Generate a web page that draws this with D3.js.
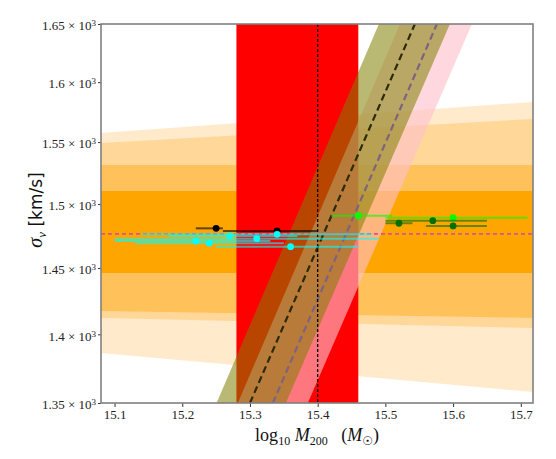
<!DOCTYPE html>
<html>
<head>
<meta charset="utf-8">
<script src="https://cdn.jsdelivr.net/npm/d3@7"></script>
<style>
  body { margin: 0; background: #fff; }
  svg { display: block; }
</style>
</head>
<body>
<div id="chart"></div>
<script>
// axis ticks
var xTicks = [15.1, 15.2, 15.3, 15.4, 15.5, 15.6, 15.7];
var yTicks = [1350, 1400, 1450, 1500, 1550, 1600, 1650];

// orange sigma bands, value at left edge / right edge of the plot
var bandTopLeft = [1557.5, 1549.3, 1531.3, 1510.4];
var bandTopRight = [1583.3, 1569.1, 1531.3, 1510.4];
var bandBottomLeft = [1386.2, 1412.2, 1417.4, 1446.2];
var bandBottomRight = [1357.9, 1404.7, 1412.2, 1446.2];
var bandColors = ["#ffebcc", "#ffd899", "#ffc25a", "#ffa500"];

// red mass range, reference mass and reference sigma
var massRange = [15.28, 15.46];
var massRef = 15.40;
var sigmaRef = 1476.5;

// diagonal relations: mass at sigma = 1350 and sigma = 1650
var relSigma = [1350, 1650];
var olivCentre = [15.300, 15.5436];
var olivLow = [15.2507, 15.4904];
var olivHigh = [15.353, 15.5953];
var pinkCentre = [15.3338, 15.5761];
var pinkLow = [15.2821, 15.5214];
var pinkHigh = [15.3855, 15.6278];

// data points
var blackMass = [15.25, 15.34];
var blackSigma = [1480.8, 1478.7];
var blackLo = [15.22, 15.26];
var blackHi = [15.26, 15.40];

var cyanMass = [15.27, 15.22, 15.24, 15.31, 15.34, 15.36];
var cyanSigma = [1474.8, 1470.9, 1469.2, 1472.7, 1476.1, 1466.5];
var cyanLo = [15.18, 15.10, 15.13, 15.10, 15.14, 15.25];
var cyanHi = [15.37, 15.33, 15.35, 15.49, 15.48, 15.46];

var limeMass = [15.46, 15.60];
var limeSigma = [1490.8, 1489.2];
var limeLo = [15.42, 15.50];
var limeHi = [15.51, 15.71];

var dkgrMass = [15.52, 15.57, 15.60];
var dkgrSigma = [1484.8, 1486.8, 1482.7];
var dkgrLo = [15.50, 15.50, 15.56];
var dkgrHi = [15.54, 15.65, 15.65];

var W = 556, H = 459;
var pL = 101, pR = 533, pT = 24, pB = 403;

var svg = d3.select("#chart").append("svg")
  .attr("width", W)
  .attr("height", H);

var x = d3.scaleLinear().domain([15.08, 15.718]).range([pL, pR]);
var y = d3.scaleLog().domain([1350, 1650]).range([pB, pT]);

svg.append("defs").append("clipPath").attr("id", "clip")
  .append("rect")
  .attr("x", pL).attr("y", pT)
  .attr("width", pR - pL).attr("height", pB - pT);

var plot = svg.append("g").attr("clip-path", "url(#clip)");

var xMin = x.domain()[0], xMax = x.domain()[1];
var line = d3.line().x(function(d) { return x(d[0]); }).y(function(d) { return y(d[1]); });

// orange bands
for (var i = 0; i < bandColors.length; i++) {
  var pts = [
    [xMin, bandTopLeft[i]], [xMax, bandTopRight[i]],
    [xMax, bandBottomRight[i]], [xMin, bandBottomLeft[i]]
  ];
  plot.append("path")
    .attr("d", line(pts) + "Z")
    .attr("fill", bandColors[i]);
}

// red mass range
plot.append("rect")
  .attr("x", x(massRange[0]))
  .attr("y", pT)
  .attr("width", x(massRange[1]) - x(massRange[0]))
  .attr("height", pB - pT)
  .attr("fill", "#ff0000");

function relBand(lo, hi, color, alpha) {
  var pts = [
    [lo[0], relSigma[0]], [lo[1], relSigma[1]],
    [hi[1], relSigma[1]], [hi[0], relSigma[0]]
  ];
  plot.append("path")
    .attr("d", line(pts) + "Z")
    .attr("fill", color)
    .attr("fill-opacity", alpha);
}

relBand(pinkLow, pinkHigh, "#ffc0cb", 0.62);
relBand(olivLow, olivHigh, "#808000", 0.55);

function relLine(m, color) {
  plot.append("path")
    .attr("d", line([[m[0], relSigma[0]], [m[1], relSigma[1]]]))
    .attr("fill", "none")
    .attr("stroke", color)
    .attr("stroke-width", 2.2)
    .attr("stroke-dasharray", "7,4");
}
relLine(olivCentre, "#2b2b08");
relLine(pinkCentre, "#7d6380");

// reference lines
plot.append("line")
  .attr("x1", x(massRef)).attr("x2", x(massRef))
  .attr("y1", pT).attr("y2", pB)
  .attr("stroke", "#000")
  .attr("stroke-width", 1.3)
  .attr("stroke-dasharray", "3,2");

plot.append("line")
  .attr("x1", pL).attr("x2", pR)
  .attr("y1", y(sigmaRef)).attr("y2", y(sigmaRef))
  .attr("stroke", "#d6558f")
  .attr("stroke-width", 1.6)
  .attr("stroke-dasharray", "4,3");

// error bars + markers
function series(mass, sigma, lo, hi, color) {
  var g = plot.append("g");
  g.selectAll("line.err").data(mass).enter().append("line")
    .attr("class", "err")
    .attr("x1", function(d, i) { return x(lo[i]); })
    .attr("x2", function(d, i) { return x(hi[i]); })
    .attr("y1", function(d, i) { return y(sigma[i]); })
    .attr("y2", function(d, i) { return y(sigma[i]); })
    .attr("stroke", color)
    .attr("stroke-opacity", 0.6)
    .attr("stroke-width", 2);
  return g;
}
function markers(g, mass, sigma, color) {
  g.selectAll("circle").data(mass).enter().append("circle")
    .attr("cx", function(d) { return x(d); })
    .attr("cy", function(d, i) { return y(sigma[i]); })
    .attr("r", 3.4)
    .attr("fill", color);
}
var gb = series(blackMass, blackSigma, blackLo, blackHi, "#000");
var gc = series(cyanMass, cyanSigma, cyanLo, cyanHi, "#00ffff");
var gl = series(limeMass, limeSigma, limeLo, limeHi, "#00ff00");
var gd = series(dkgrMass, dkgrSigma, dkgrLo, dkgrHi, "#007000");
markers(gb, blackMass, blackSigma, "#000");
markers(gc, cyanMass, cyanSigma, "#00ffff");
markers(gl, limeMass, limeSigma, "#00ff00");
markers(gd, dkgrMass, dkgrSigma, "#007000");

// axes
var serif = "Liberation Serif, DejaVu Serif, serif";

var xAxis = svg.append("g")
  .attr("transform", "translate(0," + pB + ")")
  .call(d3.axisBottom(x).tickValues(xTicks).tickSize(4).tickPadding(3)
    .tickFormat(d3.format(".1f")));
xAxis.select(".domain").remove();
xAxis.selectAll(".tick line").attr("stroke", "#333").attr("stroke-width", 1);
xAxis.selectAll(".tick text")
  .attr("font-family", serif).attr("font-size", 13).attr("fill", "#222");

var yAxis = svg.append("g")
  .attr("transform", "translate(" + pL + ",0)")
  .call(d3.axisLeft(y).tickValues(yTicks).tickSize(3).tickPadding(2)
    .tickFormat(function() { return ""; }));
yAxis.select(".domain").remove();
yAxis.selectAll(".tick line").attr("stroke", "#333").attr("stroke-width", 1);
yAxis.selectAll(".tick text").each(function(d) {
  var t = d3.select(this)
    .attr("font-family", serif).attr("font-size", 13).attr("fill", "#222")
    .attr("dy", "0.45em");
  t.append("tspan").text(d3.format("~g")(d / 1000) + " \u00d7 10");
  t.append("tspan").attr("dy", "-0.45em").attr("font-size", 9).text("3");
});

// spines
svg.append("rect")
  .attr("x", pL).attr("y", pT)
  .attr("width", pR - pL).attr("height", pB - pT)
  .attr("fill", "none")
  .attr("stroke", "#808080")
  .attr("stroke-width", 1.6);

// axis labels
var xl = svg.append("text")
  .attr("x", (pL + pR) / 2)
  .attr("y", 441)
  .attr("text-anchor", "middle")
  .attr("font-family", serif)
  .attr("font-size", 18)
  .attr("fill", "#111")
  .attr("xml:space", "preserve");
xl.append("tspan").text("log");
xl.append("tspan").attr("font-size", 12).attr("dy", 4).text("10");
xl.append("tspan").attr("dy", -4).attr("font-style", "italic").text(" M");
xl.append("tspan").attr("font-size", 12).attr("dy", 4).text("200");
xl.append("tspan").attr("dy", -4).text("   (");
xl.append("tspan").attr("font-style", "italic").text("M");
xl.append("tspan").attr("font-size", 12).attr("dy", 4).attr("font-family", "DejaVu Sans").text("\u2609");
xl.append("tspan").attr("dy", -4).text(")");

var yl = svg.append("text")
  .attr("transform", "translate(42,210) rotate(-90)")
  .attr("text-anchor", "middle")
  .attr("font-size", 17)
  .attr("fill", "#111");
yl.append("tspan").attr("font-family", serif).attr("font-style", "italic").attr("font-size", 20).text("\u03c3");
yl.append("tspan").attr("font-family", serif).attr("font-style", "italic").attr("font-size", 13).attr("dy", 4).text("v");
yl.append("tspan").attr("font-family", "DejaVu Sans").attr("dy", -4).text(" [km/s]");
</script>
</body>
</html>
